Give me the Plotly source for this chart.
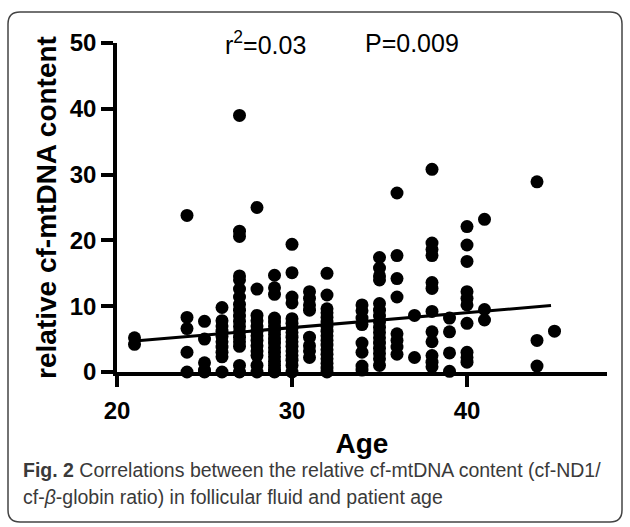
import plotly.graph_objects as go

# ---- data ----
ages = [21, 24, 25, 26, 27, 28, 29, 30, 31, 32, 34, 35, 36, 37, 38, 39, 40, 41, 44, 45]
v21 = [5.2, 4.2]
v24 = [23.8, 8.3, 6.6, 3.0, 0.0]
v25 = [7.7, 5.0, 1.4, 0.3, 0.0]
v26 = [9.8, 7.8, 7.0, 6.2, 5.4, 4.6, 3.8, 3.0, 2.3, 0.0]
v27 = [39.0, 21.4, 20.6, 14.6, 14.0, 12.6, 11.4, 10.3, 9.4, 8.5, 7.7, 6.9, 6.1, 5.3, 4.6, 3.9, 1.0, 0.0]
v28 = [25.0, 12.6, 8.6, 7.8, 7.0, 6.2, 5.5, 4.8, 4.0, 3.2, 2.5, 1.0, 0.0]
v29 = [14.7, 12.8, 11.8, 8.2, 7.6, 7.0, 6.3, 5.7, 5.0, 4.4, 3.7, 3.0, 2.3, 1.6, 1.0, 0.4, 0.0]
v30 = [19.4, 15.1, 11.4, 10.5, 8.1, 7.4, 6.7, 6.0, 5.3, 4.6, 3.9, 3.2, 2.5, 1.8, 1.0, 0.0]
v31 = [12.2, 11.2, 10.2, 9.4, 5.3, 4.0, 3.2, 2.2]
v32 = [15.0, 11.7, 9.6, 9.0, 8.3, 7.6, 6.9, 6.2, 5.5, 4.8, 4.1, 3.4, 2.7, 2.0, 1.3, 0.6, 0.0]
v34 = [10.2, 9.3, 8.2, 7.2, 4.4, 3.0, 0.9, 0.3]
v35 = [17.4, 15.8, 14.6, 14.0, 10.4, 9.4, 8.5, 7.6, 6.8, 6.0, 5.2, 4.4, 3.6, 2.8, 2.0, 1.0]
v36 = [27.2, 17.7, 14.2, 11.4, 5.8, 4.8, 3.8, 2.7]
v37 = [8.6, 2.2]
v38 = [30.8, 19.6, 18.6, 17.7, 13.6, 12.7, 9.2, 6.1, 4.6, 2.5, 1.5, 0.8]
v39 = [8.2, 6.1, 2.9, 0.1]
v40 = [22.1, 19.3, 16.8, 12.2, 11.2, 10.2, 7.4, 3.0, 2.2, 1.5]
v41 = [23.2, 9.5, 7.9]
v44 = [28.9, 4.8, 0.9]
v45 = [6.2]
columns = [v21, v24, v25, v26, v27, v28, v29, v30, v31, v32, v34, v35, v36, v37, v38, v39, v40, v41, v44, v45]

fit_x = [21, 44.8]
fit_y = [4.7, 10.1]

x_ticks = [20, 30, 40]
y_ticks = [0, 10, 20, 30, 40, 50]

r2_text = "r<sup>2</sup>=0.03"
p_text = "P=0.009"
x_title = "Age"
y_title = "relative cf-mtDNA content"
caption1 = "<b>Fig. 2</b> Correlations between the relative cf-mtDNA content (cf-ND1/"
caption2 = "cf-<i>β</i>-globin ratio) in follicular fluid and patient age"

xs, ys = [], []
for a, vals in zip(ages, columns):
    for v in vals:
        xs.append(a)
        ys.append(v)

# ---- layout geometry (pixels) ----
W, H = 630, 527
L, R, T, B = 117, 607, 43, 372


def px(x):
    return (x - L) / (R - L)


def py(y):
    return (B - y) / (B - T)


fig = go.Figure()
fig.add_trace(go.Scatter(x=xs, y=ys, mode="markers",
                         marker=dict(size=13, color="black"),
                         cliponaxis=False, showlegend=False))
fig.add_trace(go.Scatter(x=fit_x, y=fit_y, mode="lines",
                         line=dict(color="black", width=3),
                         cliponaxis=False, showlegend=False))

axis_font = dict(family="Liberation Sans, Arial, sans-serif", size=24, color="black", weight="bold")
title_font = dict(family="Liberation Sans, Arial, sans-serif", size=28, color="black", weight="bold")

fig.update_xaxes(range=[20, 48], tickvals=x_ticks, showgrid=False, zeroline=False,
                 showline=True, linecolor="black", linewidth=3.5,
                 ticks="outside", ticklen=11, tickwidth=3.5, tickcolor="black",
                 tickfont=axis_font, ticklabelstandoff=3,
                 title=dict(text=x_title, font=title_font, standoff=12))
fig.update_yaxes(range=[0, 50], tickvals=y_ticks, showgrid=False, zeroline=False,
                 showline=True, linecolor="black", linewidth=3.5,
                 ticks="outside", ticklen=12, tickwidth=3.5, tickcolor="black",
                 tickfont=axis_font, ticklabelstandoff=0,
                 title=dict(text=y_title, font=title_font, standoff=6))

ann_font = dict(family="Liberation Sans, Arial, sans-serif", size=25, color="black")
cap_font = dict(family="Liberation Sans, Arial, sans-serif", size=19.5, color="#3a3a3a")
annotations = [
    dict(x=26.06, y=50.0, xref="x", yref="y", text=r2_text, showarrow=False,
         xanchor="left", yanchor="middle", font=ann_font),
    dict(x=34.06, y=50.0, xref="x", yref="y", text=p_text, showarrow=False,
         xanchor="left", yanchor="middle", font=ann_font),
    dict(x=px(21), y=py(470), xref="paper", yref="paper", text=caption1, showarrow=False,
         xanchor="left", yanchor="middle", font=cap_font),
    dict(x=px(21), y=py(497), xref="paper", yref="paper", text=caption2, showarrow=False,
         xanchor="left", yanchor="middle", font=cap_font),
]

# rounded border around the figure
x0, x1, y0, y1, r = 8, 622, 12, 522, 12
path = (f"M {px(x0 + r)},{py(y0)} L {px(x1 - r)},{py(y0)} Q {px(x1)},{py(y0)} {px(x1)},{py(y0 + r)} "
        f"L {px(x1)},{py(y1 - r)} Q {px(x1)},{py(y1)} {px(x1 - r)},{py(y1)} "
        f"L {px(x0 + r)},{py(y1)} Q {px(x0)},{py(y1)} {px(x0)},{py(y1 - r)} "
        f"L {px(x0)},{py(y0 + r)} Q {px(x0)},{py(y0)} {px(x0 + r)},{py(y0)} Z")

fig.update_layout(
    width=W, height=H,
    margin=dict(l=L, r=W - R, t=T, b=H - B),
    paper_bgcolor="white", plot_bgcolor="white",
    annotations=annotations,
    shapes=[dict(type="path", path=path, xref="paper", yref="paper",
                 line=dict(color="#444444", width=1.5), layer="below")],
)

fig.write_html("out.html")
